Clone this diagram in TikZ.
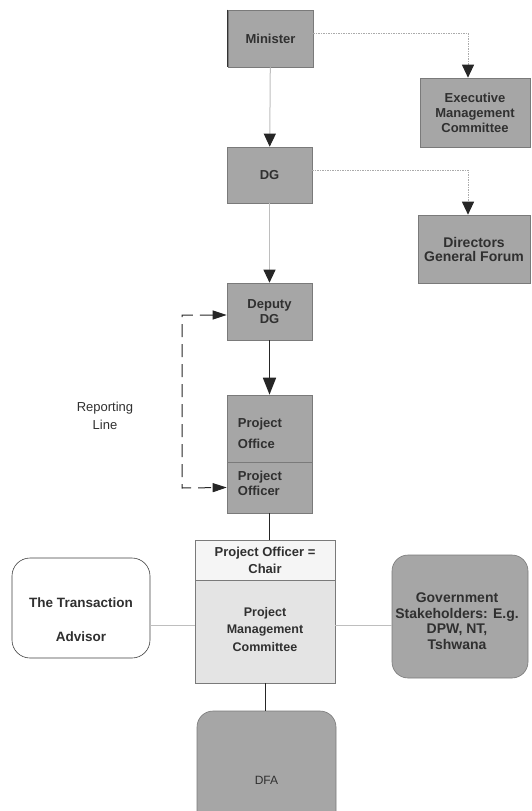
\documentclass[tikz,border=0pt]{standalone}
\usepackage{fontspec}
\setmainfont{Liberation Sans}
\usetikzlibrary{arrows.meta}
\definecolor{boxfill}{HTML}{A6A6A6}
\definecolor{boxline}{HTML}{7A7A7A}
\definecolor{txt}{HTML}{303030}
\definecolor{lgrey}{HTML}{BEBEBE}
\definecolor{headfill}{HTML}{F5F5F5}
\definecolor{bodyfill}{HTML}{E4E4E4}
\begin{document}
\begin{tikzpicture}[x=1pt,y=-1pt,
  gbox/.style={draw=boxline, fill=boxfill, line width=0.6pt, text=txt, align=center, inner sep=0pt,
    font=\fontsize{13}{15}\selectfont\bfseries},
  rbox/.style={gbox, rounded corners=16pt},
  wbox/.style={draw=boxline, line width=0.6pt, text=txt, align=center, inner sep=0pt,
    font=\fontsize{13}{17}\selectfont\bfseries},
  tlabel/.style={text=txt, inner sep=0pt, font=\fontsize{13}{15}\selectfont\bfseries},
  tip/.style={-{Triangle[length=13pt,width=12pt,color=black!85]}},
  greyarrow/.style={draw=lgrey, line width=1pt, tip},
  dotarrow/.style={draw=lgrey!90!black, line width=1pt, dash pattern=on 1.5pt off 1pt, tip},
  blackline/.style={draw=black!85, line width=1pt},
  greyline/.style={draw=lgrey, line width=1pt},
  repline/.style={draw=black!85, line width=1pt, dash pattern=on 13pt off 7pt,
    {Triangle[length=14pt,width=9pt]}-{Triangle[length=14pt,width=9pt]}}
]
\useasboundingbox (0,0) rectangle (531,811);

% top chain
\node[gbox, minimum width=85pt, minimum height=57pt] (min) at (270.5,38.5) {Minister};
\draw[black!80, line width=1pt] (min.north west) -- (min.south west);
\node[gbox, minimum width=110pt, minimum height=69pt] (emc) at (475,112.5) {Executive\\Management\\Committee};
\node[gbox, minimum width=85pt, minimum height=56pt] (dg) at (269.5,175) {DG};
\node[gbox, minimum width=112pt, minimum height=68pt, font=\fontsize{14}{14}\selectfont\bfseries] (dgf) at (474,249) {Directors\\General Forum};
\node[gbox, minimum width=85pt, minimum height=57pt] (dep) at (269.5,311.5) {Deputy\\DG};

% project office
\node[gbox, minimum width=85pt, minimum height=67pt] (pof) at (269.5,428.5) {};
\node[gbox, minimum width=85pt, minimum height=51pt] (por) at (269.5,487.5) {};
\node[tlabel, anchor=west, align=left] (pofT) at ([xshift=11pt,yshift=-5pt]pof.west) {Project\\[6pt]Office};
\node[tlabel, anchor=west, align=left] (porT) at ([xshift=11pt,yshift=4pt]por.west) {Project\\Officer};

% PMC
\node[wbox, fill=headfill, minimum width=140pt, minimum height=40pt] (pmch) at (265,560) {Project Officer =\\Chair};
\node[wbox, fill=bodyfill, minimum width=140pt, minimum height=103pt] (pmc) at (265,631.5) {};
\node[tlabel, align=center, font=\fontsize{12.5}{17.5}\selectfont\bfseries] (pmcT) at (265,629.5) {Project\\Management\\Committee};

% side boxes
\node[draw=black!75, fill=white, line width=0.6pt, rounded corners=18pt, minimum width=138pt, minimum height=100pt] (ta) at (81,608) {};
\node[tlabel, align=center, font=\fontsize{13.5}{17}\selectfont\bfseries] (taT) at (81,620) {The Transaction\\[17pt]Advisor};
\node[rbox, minimum width=136pt, minimum height=123pt] (gov) at (460,616.5) {};
\node[tlabel, align=center, font=\fontsize{14}{15.5}\selectfont\bfseries] (govT) at (457,621) {Government\\Stakeholders: E.g.\\DPW, NT,\\Tshwana};
\node[rbox, minimum width=139pt, minimum height=138pt, font=\fontsize{12}{14}\selectfont] (dfa) at (266.5,780) {DFA};

% connectors
\draw[greyarrow] (min) -- (dg);
\draw[greyarrow] (dg) -- (dep);
\draw[dotarrow] ([yshift=5.5pt]min.east) -| ([xshift=-7pt]emc.north);
\draw[dotarrow] ([yshift=5pt]dg.east) -| ([xshift=-6pt]dgf.north);
\draw[draw=black!85, line width=1.6pt, -{Triangle[length=17pt,width=13pt]}] (dep) -- (pof);

\coordinate (rtop) at (182,315);
\coordinate (rbot) at (182,488);
\draw[repline] ([yshift=-3.5pt]dep.west) -- (rtop) -- (rbot) -- (por.west);
\node[text=txt, align=center, inner sep=0pt, font=\fontsize{13}{18}\selectfont] (rl) at (105,416) {Reporting\\Line};

\draw[blackline] (por.south) -- (por.south |- pmch.north);
\draw[blackline] (pmc.south) -- (pmc.south |- dfa.north);
\coordinate (pmcL) at ([yshift=6.5pt]pmc.west);
\coordinate (pmcR) at ([yshift=6.5pt]pmc.east);
\draw[greyline] (ta.east |- pmcL) -- (pmcL);
\draw[greyline] (pmcR) -- (gov.west |- pmcR);
\end{tikzpicture}
\end{document}
